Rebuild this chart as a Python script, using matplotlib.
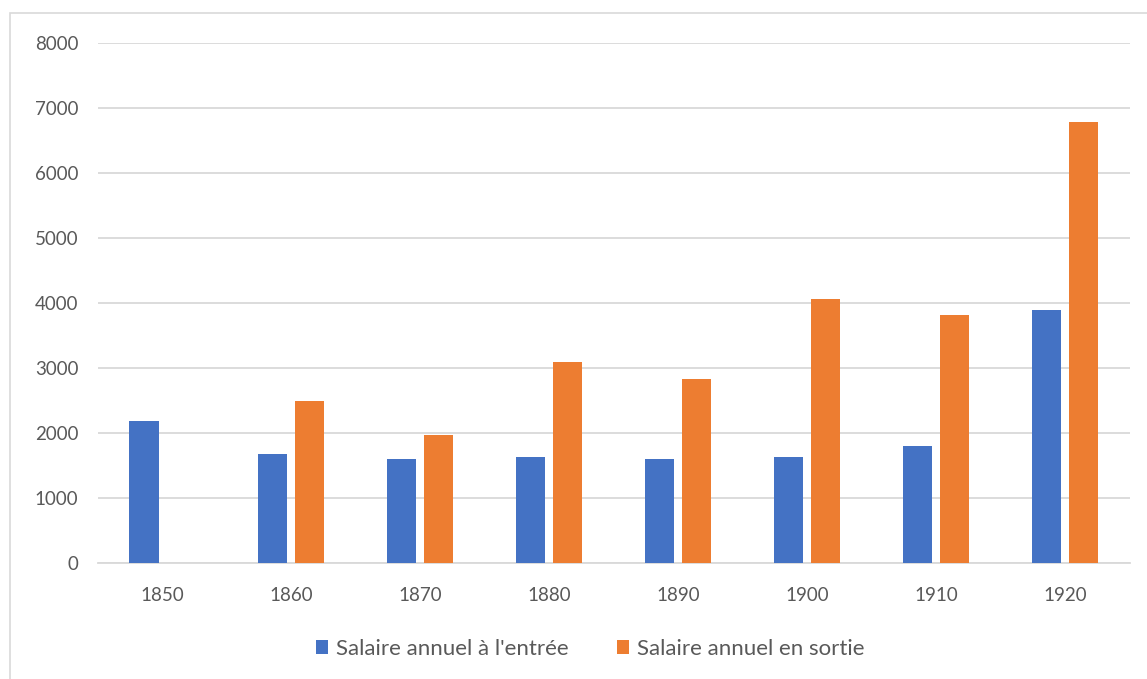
import numpy as np
import matplotlib.pyplot as plt
from matplotlib.patches import Rectangle

# Data
years = ["1850", "1860", "1870", "1880", "1890", "1900", "1910", "1920"]
salaire_entree = [2190, 1670, 1600, 1630, 1600, 1625, 1805, 3900]
salaire_sortie = [np.nan, 2485, 1965, 3090, 2830, 4060, 3810, 6780]

blue = "#4472C4"
orange = "#ED7D31"
grid = "#D9D9D9"
text_color = "#595959"

plt.rcParams["font.family"] = ["Lato", "DejaVu Sans"]

fig = plt.figure(figsize=(11.47, 6.79), dpi=100)
ax = fig.add_axes([0.0854, 0.1708, 0.8996, 0.7659])

# chart area border
fig.patches.append(Rectangle((10 / 1147, -0.05), 1.2, 1 - 13 / 679 + 0.05,
                             transform=fig.transFigure, fill=False,
                             edgecolor=grid, linewidth=1.2))

x = np.arange(len(years))
w = 0.225
off = 0.143
ax.bar(x - off, salaire_entree, w, color=blue, label="Salaire annuel à l'entrée", zorder=3)
ax.bar(x + off, salaire_sortie, w, color=orange, label="Salaire annuel en sortie", zorder=3)

ax.set_xlim(-0.5, len(years) - 0.5)
ax.set_ylim(0, 8000)
ax.set_yticks(range(0, 8001, 1000))
ax.set_xticks(x)
ax.set_xticklabels(years)

ax.yaxis.grid(True, color=grid, linewidth=1.3, zorder=0)
for s in ["top", "right", "left"]:
    ax.spines[s].set_visible(False)
ax.spines["bottom"].set_color(grid)
ax.spines["bottom"].set_linewidth(1.3)
ax.tick_params(axis="both", length=0, labelsize=13.5, labelcolor=text_color)
ax.tick_params(axis="y", pad=14)
ax.tick_params(axis="x", pad=17)

ax.legend(loc="center", bbox_to_anchor=(0.477, -0.165), ncol=2, frameon=False,
          fontsize=16, labelcolor=text_color, handlelength=0.55, handleheight=0.55,
          handletextpad=0.35, columnspacing=2.2)

plt.savefig("out.png", dpi=100)
